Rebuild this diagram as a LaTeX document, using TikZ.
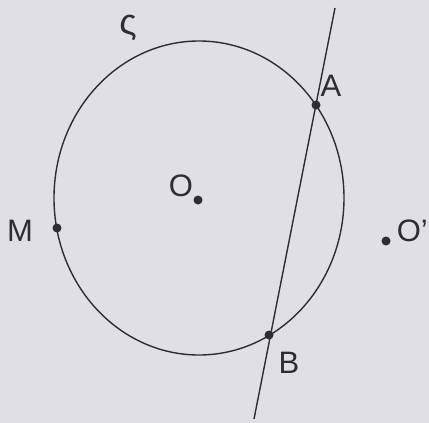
\documentclass[tikz,border=0pt]{standalone}
\usepackage{fontspec}
\setmainfont{Liberation Sans}
\definecolor{bg}{RGB}{223,223,229}
\definecolor{ink}{RGB}{45,45,50}
\begin{document}
\begin{tikzpicture}[x=1pt,y=-1pt,
  pt/.style={circle,fill=ink,inner sep=0pt,minimum size=9pt},
  lbl/.style={inner sep=0pt,text=ink,font=\fontsize{31}{34}\selectfont},
  curve/.style={draw=ink,line width=1.4pt}]
\fill[bg] (0,0) rectangle (429,423);
\useasboundingbox (0,0) rectangle (429,423);
\draw[curve] (199,198) ellipse [x radius=145pt, y radius=157pt];
\coordinate (L1) at (335,8);
\coordinate (L2) at (254,419);
\draw[curve] (L1) -- (L2);
\node[pt] (A) at (316,105) {};
\node[pt] (B) at (269,335) {};
\node[pt] (M) at (57,228) {};
\node[pt] (O) at (198,200) {};
\node[pt] (Op) at (386,241) {};
\node[lbl] (lA) at (331,86) {A};
\node[lbl] (lB) at (289,363) {B};
\node[lbl] (lM) at (20,231) {M};
\node[lbl] (lO) at (181,186) {O};
\node[lbl,anchor=east] (lOp) at (428,231) {O'};
\node[lbl] (ls) at (128,28) {\fontsize{36}{38}\selectfont ς};
\end{tikzpicture}
\end{document}
